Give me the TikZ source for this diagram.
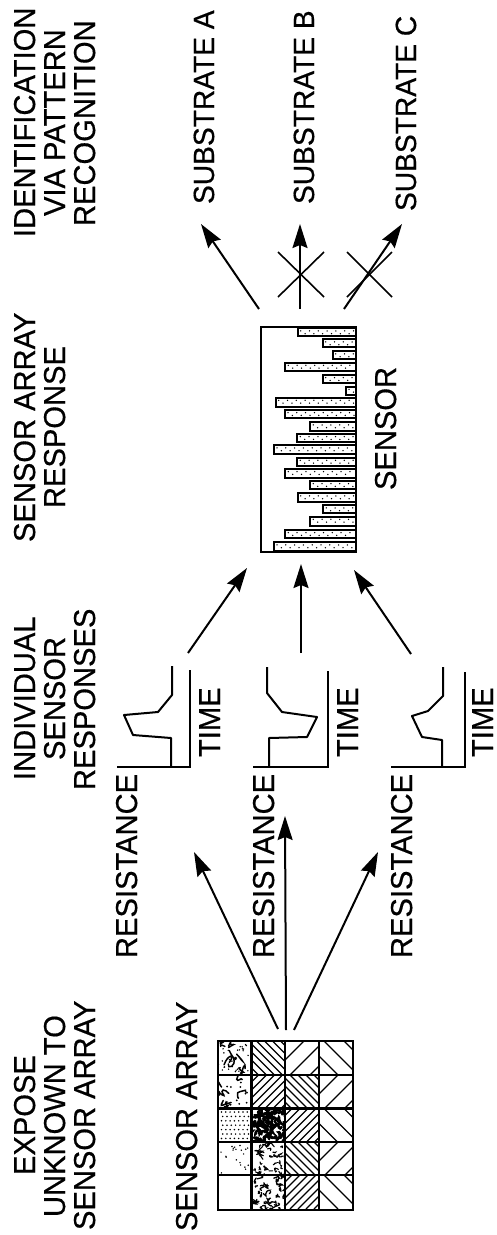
\documentclass[tikz,border=0pt]{standalone}
\usepackage{fontspec}
\setmainfont{Liberation Sans}[FakeBold=0.5,FakeStretch=0.965]
\usetikzlibrary{arrows.meta}
\tikzset{
  lab/.style={rotate=90,anchor=base west,inner sep=0pt,outer sep=0pt,font=\fontsize{30.2}{30}\selectfont},
  labsub/.style={lab,font=\fontsize{29.2}{30}\selectfont},
  arr/.style={line width=2pt,line cap=butt,-{Stealth[length=24pt,width=15pt,inset=3pt]}},
  crossline/.style={line width=1.6pt},
  curve/.style={line width=2pt,line join=round},
  axisline/.style={line width=2pt,line join=miter},
  hatchline/.style={line width=1.3pt},
  gridline/.style={line width=2.2pt},
  barbox/.style={draw=black,fill=white,line width=2pt},
}
% hatched cell: left, top, direction (1 = "\", -1 = "/"), horizontal step
\newcommand{\hatchcell}[4]{%
  \begin{scope}
    \clip (#1,#2) rectangle +(33.5,33.5);
    \pgfmathsetmacro{\nn}{int(70/#4)}%
    \foreach \k in {0,...,\nn}{%
      \pgfmathsetmacro{\off}{\k*#4-1}%
      \ifnum#3=1
        \draw[hatchline] ({#1-34+\off},#2) -- ({#1+\off},{#2+34});
      \else
        \draw[hatchline] ({#1+\off},#2) -- ({#1-34+\off},{#2+34});
      \fi
    }%
  \end{scope}}
% stippled cell: left, top, seed, count, radius
\newcommand{\dotcell}[5]{%
  \begin{scope}
    \clip (#1,#2) rectangle +(33.5,33.5);
    \pgfmathsetseed{#3}%
    \foreach \k in {1,...,#4}{%
      \fill ({#1+3+28*rnd},{#2+3+28*rnd}) circle[radius=#5pt];
    }%
  \end{scope}}
% worm cell: left, top, seed, count, line width, size
\newcommand{\wormcell}[6]{%
  \begin{scope}
    \clip (#1,#2) rectangle +(33.5,33.5);
    \pgfmathsetseed{#3}%
    \foreach \k in {1,...,#4}{%
      \pgfmathsetmacro{\px}{#1+34*rnd}%
      \pgfmathsetmacro{\py}{#2+34*rnd}%
      \draw[line width=#5pt,line cap=round] (\px,\py) .. controls ({\px+#6*rand},{\py+#6*rand}) and ({\px+#6*rand},{\py+#6*rand}) .. ({\px+#6*rand},{\py+#6*rand});
    }%
  \end{scope}}
\begin{document}
\begin{tikzpicture}[x=1pt,y=-1pt]
\useasboundingbox[fill=white] (0,0) rectangle (497,1235);

% column headings
\node[lab] (h1a) at (35,1175) {EXPOSE};
\node[lab] (h1b) at (65,1217) {UNKNOWN TO};
\node[lab] (h1c) at (95,1230) {SENSOR ARRAY};
\node[lab] (h2a) at (35,780) {INDIVIDUAL};
\node[lab] (h2b) at (65,760) {SENSOR};
\node[lab] (h2c) at (95,790) {RESPONSES};
\node[lab] (h3a) at (35,542) {SENSOR ARRAY};
\node[lab] (h3b) at (65,508) {RESPONSE};
\node[lab] (h4a) at (35,237) {IDENTIFICATION};
\node[lab] (h4b) at (65,216) {VIA PATTERN};
\node[lab] (h4c) at (95,226) {RECOGNITION};

% other labels
\node[lab] (sa) at (197,1231) {SENSOR ARRAY};
\node[lab] (r1) at (137,958) {RESISTANCE};
\node[lab] (r2) at (274,958) {RESISTANCE};
\node[lab] (r3) at (412,958) {RESISTANCE};
\node[lab] (t1) at (220,757) {TIME};
\node[lab] (t2) at (358,757) {TIME};
\node[lab] (t3) at (493,757) {TIME};
\node[lab] (sn) at (396,490) {SENSOR};
\node[labsub] (sA) at (214,204) {SUBSTRATE A};
\node[labsub] (sB) at (314,204) {SUBSTRATE B};
\node[labsub] (sC) at (416,211) {SUBSTRATE C};

% sensor array cells
\wormcell{218}{1041}{11}{12}{1.5}{9}
\dotcell{218}{1041}{12}{30}{0.8}
\wormcell{218}{1075}{13}{10}{1.5}{8}
\dotcell{218}{1075}{14}{14}{1.0}
\foreach \i in {0,...,6}{\foreach \j in {0,...,6}{%
  \fill ({221.5+\i*4.3+1.2*mod(\j,2)},{1112+\j*4.4}) circle[radius=0.85pt];}}
\dotcell{218}{1142}{15}{20}{0.8}
\wormcell{251.5}{1108.5}{16}{90}{2.6}{4}
\wormcell{251.5}{1142}{17}{48}{1.1}{4}
\wormcell{251.5}{1175}{18}{48}{1.3}{4}
\hatchcell{251.5}{1041}{1}{8}
\hatchcell{251.5}{1075}{-1}{8}
\hatchcell{285}{1041}{-1}{20}
\hatchcell{285}{1075}{1}{8}
\hatchcell{285}{1108.5}{-1}{8}
\hatchcell{285}{1142}{1}{8}
\hatchcell{285}{1175}{-1}{8}
\hatchcell{319}{1041}{1}{20}
\hatchcell{319}{1075}{-1}{20}
\hatchcell{319}{1108.5}{1}{20}
\hatchcell{319}{1142}{-1}{20}
\hatchcell{319}{1175}{1}{20}
\draw[gridline] (218,1041) rectangle (353,1210);
\foreach \gx in {251.5,285,319}{\draw[gridline] (\gx,1041) -- (\gx,1210);}
\foreach \gy in {1075,1108.5,1142,1175}{\draw[gridline] (218,\gy) -- (353,\gy);}

% response curves
\draw[axisline] (117,767) -- (190,767) -- (190,670);
\draw[curve] (172,666) -- (172,695) -- (158,712) -- (124,715) -- (133,735) -- (171,738) -- (171,767);
\draw[axisline] (253,767) -- (328,767) -- (328,671);
\draw[curve] (267,667) -- (267,693) -- (282,712) -- (317,717) -- (307,737) -- (269,738) -- (269,767);
\draw[axisline] (391,767) -- (465,767) -- (465,672);
\draw[curve] (443,667) -- (443,696) -- (428,711) -- (412,716) -- (422,737) -- (442,740) -- (442,767);

% sensor array response bars
\foreach \bl/\bt/\bb in {297.7/328.3/335.7,322.7/339.3/346.7,332.7/351.3/359,285.3/362.7/371,322.7/375/382.7,346/386.7/395,275.7/397.7/406.7,285/410/418.3,310.3/422.3/430.7,297.3/434/442.3,274/445.3/454,297.3/457.7/465.7,285.3/469/477.7,310.3/481/489,297.7/493.3/501.7,323.3/505.3/513.3,310.3/516.7/526,285.3/530/538.3,274/542.3/550.7}{%
  \draw[barbox] (\bl,\bt) rectangle (356,\bb);
  \pgfmathtruncatemacro{\nd}{(356-\bl-5)/4.4}%
  \foreach \k in {0,...,\nd}{%
    \fill ({\bl+3+\k*4.4},{\bt+2.6+2.8*mod(\k,2)}) circle[radius=0.75pt];
  }%
}
\draw[line width=2.2pt] (261,327) rectangle (356,552);

% connectors
\coordinate (aL) at (278,1029);
\coordinate (aM) at (286,1030);
\coordinate (aR) at (294,1030);
\coordinate (c1in) at (194,852);
\coordinate (c2in) at (285,816);
\coordinate (c3in) at (378,852);
\coordinate (c1out) at (188,653);
\coordinate (c2out) at (301,653);
\coordinate (c3out) at (411,654);
\coordinate (bL) at (247,568);
\coordinate (bM) at (301,564);
\coordinate (bR) at (354,570);
\coordinate (oL) at (259,309);
\coordinate (oM) at (300,309);
\coordinate (oR) at (344,309);
\coordinate (tA) at (201,224);
\coordinate (tB) at (300,224);
\coordinate (tC) at (402,224);
\draw[arr] (aL) -- (c1in);
\draw[arr] (aM) -- (c2in);
\draw[arr] (aR) -- (c3in);
\draw[arr] (c1out) -- (bL);
\draw[arr] (c2out) -- (bM);
\draw[arr] (c3out) -- (bR);
\draw[arr] (oL) -- (tA);
\draw[arr] (oM) -- (tB);
\draw[arr] (oR) -- (tC);

% crosses
\draw[crossline] (278,252) -- (324,297);
\draw[crossline] (324,252) -- (278,297);
\draw[crossline] (347,252) -- (392,297);
\draw[crossline] (392,252) -- (347,297);
\end{tikzpicture}
\end{document}
